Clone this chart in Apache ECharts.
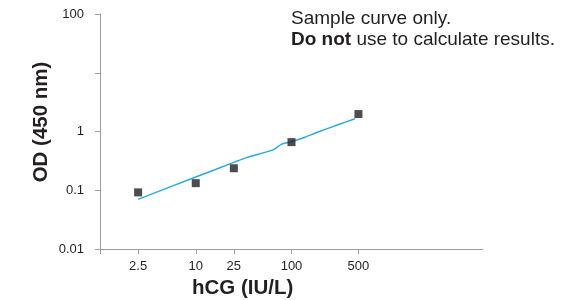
<!DOCTYPE html>
<html>
<head>
<meta charset="utf-8">
<script src="https://cdn.jsdelivr.net/npm/echarts@6/dist/echarts.min.js"></script>
<style>
  html, body { margin: 0; padding: 0; background: #fff; }
  #chart { width: 562px; height: 300px; }
</style>
</head>
<body>
<div id="chart"></div>
<script>
// standards (hCG IU/L) and measured OD
const stdConc = [2.5, 10, 25, 100, 500]
const stdOD = [0.092, 0.132, 0.237, 0.66, 1.98]

// fitted curve
const curveConc = [2.5, 10, 25, 35, 64, 79, 97, 138, 189, 306, 460]
const curveOD = [0.07, 0.168, 0.298, 0.366, 0.487, 0.61, 0.66, 0.80, 0.98, 1.30, 1.65]

const xTicks = [1, 2.5, 10, 25, 100, 500]
const xLabels = [2.5, 10, 25, 100, 500]
const yTicks = [0.01, 0.1, 1, 10, 100]
const yLabels = [0.01, 0.1, 1, 100]

const ink = '#231f20'
const axisGray = '#9d9d9d'

const chart = echarts.init(document.getElementById('chart'))
const option = {
  animation: false,
  grid: { left: 100, right: 79, top: 14, bottom: 51 },
  xAxis: {
    type: 'log',
    logBase: 10,
    min: 1,
    max: 10000,
    axisLine: { lineStyle: { color: axisGray, width: 1 } },
    axisTick: { customValues: xTicks, length: 5, lineStyle: { color: axisGray } },
    axisLabel: {
      customValues: xLabels,
      margin: 11,
      color: ink,
      fontSize: 13,
      fontFamily: 'Liberation Sans',
      formatter: v => String(+Number(v).toPrecision(3))
    },
    splitLine: { show: false },
    minorTick: { show: false }
  },
  yAxis: {
    type: 'log',
    logBase: 10,
    min: 0.01,
    max: 100,
    axisLine: { show: true, lineStyle: { color: axisGray, width: 1 } },
    axisTick: { show: true, customValues: yTicks, length: 5, lineStyle: { color: axisGray } },
    axisLabel: {
      customValues: yLabels,
      margin: 16,
      color: ink,
      fontSize: 13,
      fontFamily: 'Liberation Sans',
      formatter: v => String(+Number(v).toPrecision(3))
    },
    splitLine: { show: false }
  },
  graphic: [
    {
      type: 'text',
      left: 192, top: 278,
      style: { text: 'hCG (IU/L)', font: 'bold 20.5px "Liberation Sans"', fill: ink }
    },
    {
      type: 'text',
      x: 31, y: 122,
      rotation: Math.PI / 2,
      style: {
        text: 'OD (450 nm)', font: 'bold 20.5px "Liberation Sans"', fill: ink,
        align: 'center', verticalAlign: 'top'
      }
    },
    {
      type: 'text',
      left: 291, top: 8,
      style: {
        text: 'Sample curve only.\n{b|Do not} use to calculate results.',
        font: '19px "Liberation Sans"',
        fill: ink,
        lineHeight: 21,
        rich: {
          b: { fontWeight: 'bold', fontSize: 19, fontFamily: 'Liberation Sans', fill: ink, lineHeight: 21 }
        }
      }
    }
  ],
  series: [
    {
      name: 'curve',
      type: 'line',
      data: curveConc.map((c, i) => [c, curveOD[i]]),
      showSymbol: false,
      smooth: 0.2,
      lineStyle: { color: '#29abe2', width: 1.5 },
      z: 2
    },
    {
      name: 'standards',
      type: 'scatter',
      data: stdConc.map((c, i) => [c, stdOD[i]]),
      symbol: 'rect',
      symbolSize: 8,
      itemStyle: { color: ink },
      z: 3
    }
  ]
}
chart.setOption(option)
</script>
</body>
</html>
